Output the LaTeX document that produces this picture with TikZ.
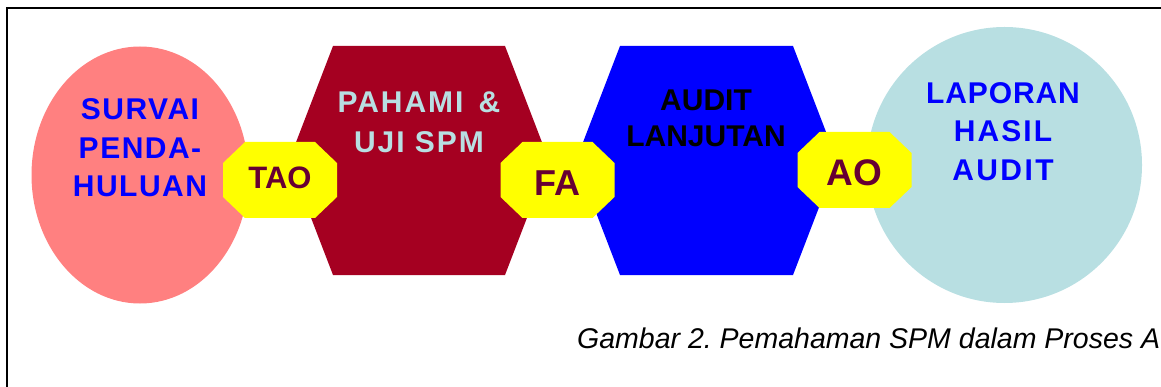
\documentclass[tikz,border=0pt]{standalone}
\usepackage{fontspec}
\setmainfont{Liberation Sans}
\usetikzlibrary{shapes.geometric}

\definecolor{survaipink}{HTML}{FF8080}
\definecolor{pahamired}{HTML}{A50021}
\definecolor{auditblue}{HTML}{0000FF}
\definecolor{laporanblue}{HTML}{B8DFE2}
\definecolor{gateyellow}{HTML}{FFFF00}
\definecolor{gatetext}{HTML}{660033}

\tikzset{
  stagetext/.style={anchor=base, inner sep=0pt,
    font=\fontsize{30}{36}\selectfont\bfseries},
  spaced/.style={font=\fontsize{30}{36}\selectfont\bfseries\addfontfeatures{LetterSpace=#1}},
  gatetxt/.style={anchor=base, inner sep=0pt, text=gatetext},
  gate/.pic={
    \path[fill=gateyellow] (-57,-17) -- (-35,-38) -- (35,-38) -- (57,-17)
      -- (57,17) -- (35,38) -- (-35,38) -- (-57,17) -- cycle;
  }
}

\begin{document}
\frenchspacing
\begin{tikzpicture}[x=1pt,y=-1pt]
\useasboundingbox (0,0) rectangle (1161,387);
\clip (0,0) rectangle (1161,387);

% frame
\draw[line width=2.2pt] (7,390) -- (7,8) -- (1165,8);

% stage shapes
\fill[survaipink] (140,175) ellipse [x radius=108.5, y radius=128.5];
\fill[pahamired] (333,46) -- (505,46) -- (549,160.5) -- (505,275)
  -- (333,275) -- (289,160.5) -- cycle;
\fill[auditblue] (620,46) -- (793,46) -- (837,160.5) -- (793,275)
  -- (620,275) -- (576,160.5) -- cycle;
\fill[laporanblue] (1004.5,165) ellipse [x radius=137.5, y radius=138];

% stage labels
\node[stagetext, spaced=5, text=auditblue] (s1) at (140,120) {SURVAI};
\node[stagetext, spaced=5, text=auditblue] (s2) at (140,159) {PENDA-};
\node[stagetext, spaced=5, text=auditblue] (s3) at (140,197) {HULUAN};

\node[stagetext, spaced=6.5, text=laporanblue] (p1) at (419,113) {PAHAMI \,\&};
\node[stagetext, spaced=6.5, text=laporanblue] (p2) at (419,153) {UJI SPM};

\node[stagetext, text=black] (a1) at (706,111) {AUDIT};
\node[stagetext, text=black] (a2) at (706,147) {LANJUTAN};

\node[stagetext, spaced=3, text=auditblue] (l1) at (1003,104) {LAPORAN};
\node[stagetext, spaced=7, text=auditblue] (l2) at (1003,142) {HASIL};
\node[stagetext, spaced=8, text=auditblue] (l3) at (1003,181) {AUDIT};

% gates between stages
\pic at (280,180) {gate};
\pic at (557.5,180) {gate};
\pic at (854.5,170) {gate};
\node[gatetxt, font=\fontsize{31}{36}\selectfont\bfseries] (tao) at (280,189) {TAO};
\node[gatetxt, font=\fontsize{36}{40}\selectfont\bfseries] (fa) at (557.5,196) {FA};
\node[gatetxt, font=\fontsize{37}{40}\selectfont\bfseries] (ao) at (854.5,186) {AO};

% caption
\node[anchor=base west, inner sep=0pt, font=\fontsize{28.5}{34}\selectfont\itshape]
  (cap) at (577,348) {Gambar 2. Pemahaman SPM dalam Proses Audit};
\end{tikzpicture}
\end{document}
